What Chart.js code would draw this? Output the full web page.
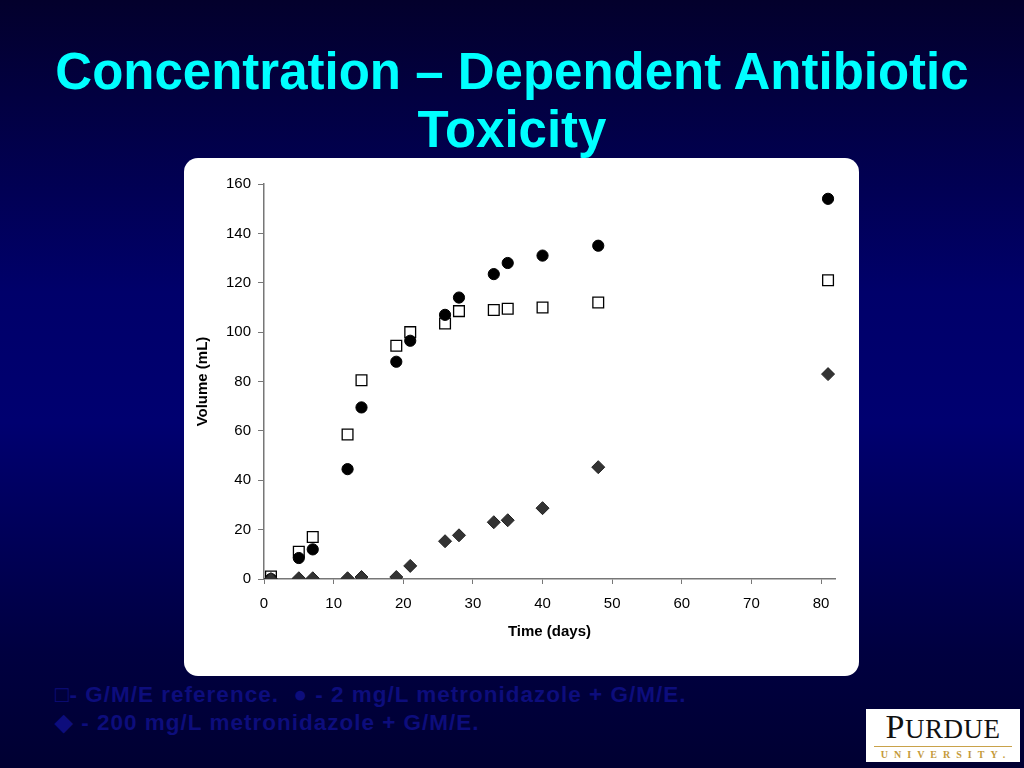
<!DOCTYPE html>
<html>
<head>
<meta charset="utf-8">
<script src="https://cdn.jsdelivr.net/npm/chart.js@4/dist/chart.umd.min.js"></script>
<style>
  html, body { margin: 0; padding: 0; }
  body {
    width: 1024px; height: 768px; position: relative; overflow: hidden;
    background: linear-gradient(to bottom, #03002c 0%, #00006a 38%, #000070 55%, #000040 85%, #000032 100%);
    font-family: "Liberation Sans", Arial, sans-serif;
  }
  #title {
    position: absolute; left: 0; top: 43px; width: 1024px;
    text-align: center; color: #00ffff; font-weight: bold;
    font-size: 51px; line-height: 58px;
  }
  #box {
    position: absolute; left: 184px; top: 158px; width: 675px; height: 518px;
    background: #fff; border-radius: 14px; overflow: hidden;
  }
  #legend {
    position: absolute; left: 55px; top: 681px; color: #0d0d7c;
    font-size: 22.5px; line-height: 28px; font-weight: bold; white-space: pre;
    letter-spacing: 1px;
  }
  #logo {
    position: absolute; left: 866px; top: 709px; width: 154px; height: 53px;
    background: #fff; text-align: center; font-family: "Liberation Serif", serif;
  }
  #logo .name { color: #111; font-size: 27px; line-height: 30px; margin-top: 3px; letter-spacing: 0.5px; }
  #logo .name span { font-size: 34px; }
  #logo .rule { height: 1px; background: #c9a24a; margin: 2px 8px 2px 8px; }
  #logo .uni { color: #c49a3a; font-size: 10px; letter-spacing: 6px; font-weight: bold; padding-left: 6px; }
</style>
</head>
<body>
<div id="title">Concentration – Dependent Antibiotic<br>Toxicity</div>
<div id="box"><canvas id="chart" width="675" height="518"></canvas></div>
<div id="legend">□- G/M/E reference.  ● - 2 mg/L metronidazole + G/M/E.
◆ - 200 mg/L metronidazole + G/M/E.</div>
<div id="logo"><div class="name"><span>P</span>URDUE</div><div class="rule"></div><div class="uni">UNIVERSITY.</div></div>
<script>
// values
const days = [1, 5, 7, 12, 14, 19, 21, 26, 28, 33, 35, 40, 48, 81];
const gmeReference = [1, 11, 17, 58.5, 80.5, 94.5, 100, 103.5, 108.5, 109, 109.5, 110, 112, 121];
const metro2 = [0, 8.5, 12, 44.5, 69.5, 88, 96.5, 107, 114, 123.5, 128, 131, 135, 154];
const metro200 = [0, 0.3, 0.3, 0.3, 0.8, 0.8, 5.3, 15.3, 17.7, 23, 23.8, 28.7, 45.3, 83];
const xTicks = [0, 10, 20, 30, 40, 50, 60, 70, 80];
const yTicks = [0, 20, 40, 60, 80, 100, 120, 140, 160];

function pts(ys) {
  return days.map((d, i) => ({ x: d, y: ys[i] }));
}

const axisColor = "#777";
const tickFont = { family: "Liberation Sans, Arial, sans-serif", size: 15 };
const titleFont = { family: "Liberation Sans, Arial, sans-serif", size: 15, weight: "bold" };

new Chart(document.getElementById("chart"), {
  type: "scatter",
  data: {
    datasets: [
      { label: "200 mg/L metronidazole + G/M/E", data: pts(metro200), pointStyle: "rectRot",
        pointRadius: 6.5, backgroundColor: "#333", borderColor: "#222", borderWidth: 1 },
      { label: "2 mg/L metronidazole + G/M/E", data: pts(metro2), pointStyle: "circle",
        pointRadius: 5.6, backgroundColor: "#000", borderColor: "#000", borderWidth: 1 },
      { label: "G/M/E reference", data: pts(gmeReference), pointStyle: "rect",
        pointRadius: 7.6, backgroundColor: "#fff", borderColor: "#000", borderWidth: 1.3 }
    ]
  },
  options: {
    responsive: false,
    animation: false,
    layout: { padding: { top: 26, right: 24, bottom: 31, left: 0 } },
    scales: {
      x: {
        type: "linear", min: 0, max: 82,
        afterBuildTicks: s => { s.ticks = xTicks.map(v => ({ value: v })); },
        afterFit: s => { s.height = 66; },
        ticks: { color: "#000", font: tickFont, padding: 11, maxRotation: 0 },
        grid: { drawOnChartArea: false, tickLength: 5, color: axisColor },
        border: { color: axisColor, width: 1.5 },
        title: { display: true, text: "Time (days)", color: "#000", font: titleFont, padding: { top: 4, bottom: 4 } }
      },
      y: {
        type: "linear", min: 0, max: 160,
        afterBuildTicks: s => { s.ticks = yTicks.map(v => ({ value: v })); },
        afterFit: s => { s.width = 80; },
        ticks: { color: "#000", font: tickFont, padding: 7 },
        grid: { drawOnChartArea: false, tickLength: 6, color: axisColor },
        border: { color: axisColor, width: 1.5 },
        title: { display: true, text: "Volume (mL)", color: "#000", font: titleFont, padding: { top: 10, bottom: 4 } }
      }
    },
    plugins: { legend: { display: false }, tooltip: { enabled: false } }
  }
});
</script>
</body>
</html>
